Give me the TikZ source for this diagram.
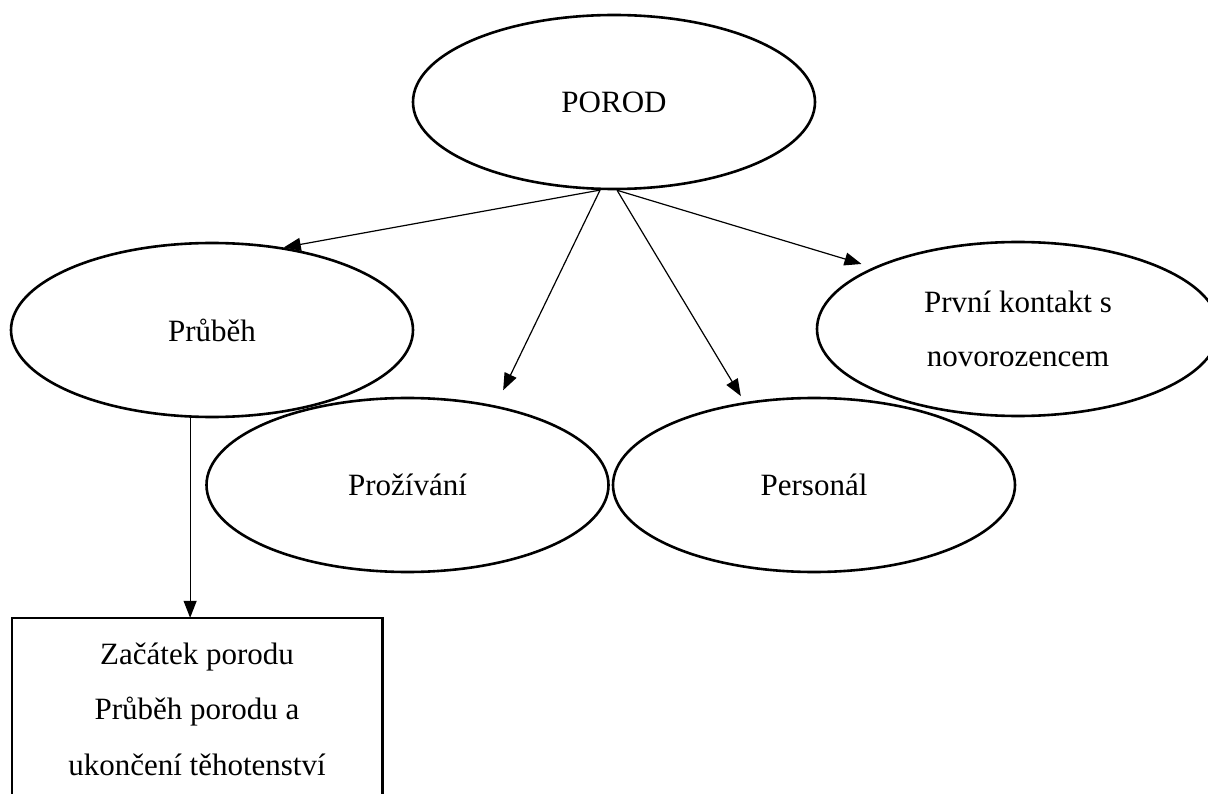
\documentclass[tikz,border=0pt]{standalone}
\usepackage{fontspec}
\setmainfont{Liberation Serif}
\usetikzlibrary{arrows.meta}
\usetikzlibrary{shapes.geometric}

\tikzset{
	topic/.style={ellipse, draw, line width=2.6pt, minimum width=402pt, minimum height=174pt, inner sep=0pt, align=center, font=\fontsize{31}{54}\selectfont},
	link/.style={line width=1.2pt, -{Triangle[length=17pt,width=13pt]}},
}

\begin{document}
\begin{tikzpicture}[x=1pt, y=-1pt]
		\useasboundingbox[fill=white] (0,0) rectangle (1208,794);
		% topics
		\node[topic] (porod) at (614,102) {POROD}; %% main topic
		\node[topic] (prubeh) at (212,330) {Průběh};
		\node[topic] (prozivani) at (407.5,485) {Prožívání};
		\node[topic] (personal) at (814,485) {Personál};
		\node[topic] (kontakt) at (1018,329) {První kontakt s\\novorozencem};
		% open box below
		\node[align=center, font=\fontsize{31}{55.5}\selectfont, minimum width=370pt, minimum height=182pt, inner sep=0pt] (zacatek) at (197,709) {Začátek porodu\\Průběh porodu a\\ukončení těhotenství};
		\draw[line width=2.6pt] (zacatek.south west) |- (zacatek.north east) -- (zacatek.south east);
		% arrows
		\draw[link] (porod.261) -- (prubeh.49);
		\draw[link, shorten >=17pt] (porod.261) -- (prozivani.42);
		\draw[link, shorten >=7pt] (porod.272) -- (personal.130);
		\draw[link, shorten >=12pt] (porod.272) -- (kontakt.157);
		\draw[link] (prubeh.256) -- (prubeh.256 |- zacatek.north);
	\end{tikzpicture}
\end{document}
